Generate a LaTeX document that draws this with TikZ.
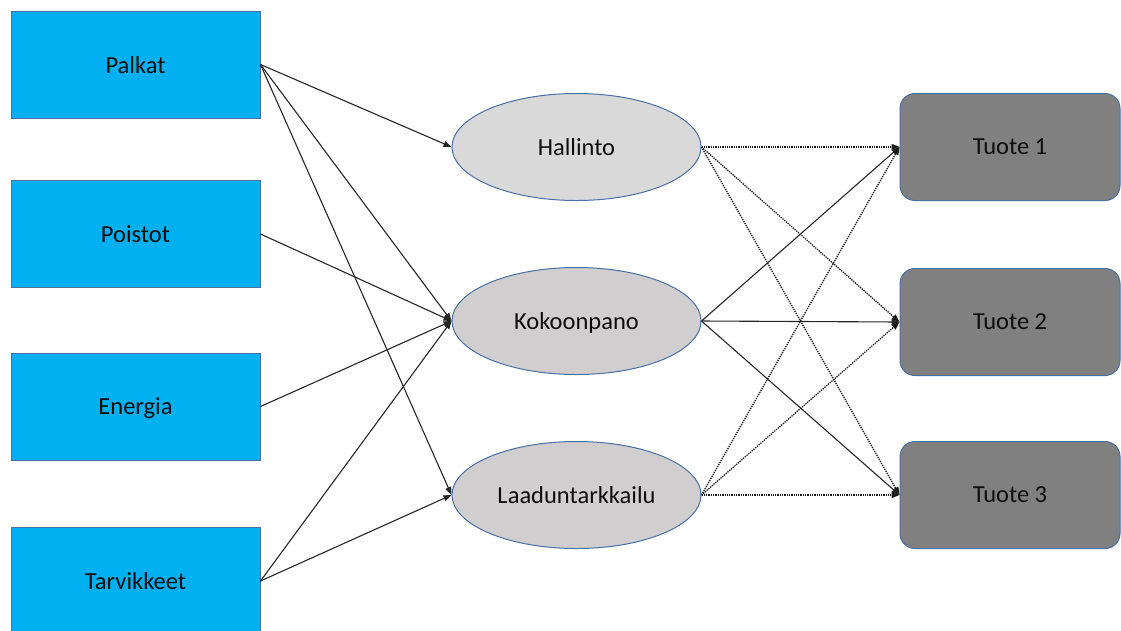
\documentclass[tikz,border=0pt]{standalone}
\usepackage{fontspec}
\setmainfont{Carlito}
\usetikzlibrary{shapes.geometric,arrows.meta}
\definecolor{srcblue}{HTML}{00B0F0}
\definecolor{edgeblue}{HTML}{4A6FA5}
\definecolor{actgray}{HTML}{D9D9D9}
\definecolor{actgray2}{HTML}{D0CECE}
\definecolor{prodgray}{HTML}{808080}
\definecolor{txt}{HTML}{0D0D0D}
\tikzset{
  lbl/.style={text=txt, font=\fontsize{24.5}{28}\selectfont, text depth=0pt},
  src/.style={draw=edgeblue, line width=1pt, fill=srcblue, minimum width=249pt, minimum height=107pt, inner sep=0pt, lbl},
  act/.style={ellipse, draw=edgeblue, line width=1pt, fill=actgray, minimum width=249pt, minimum height=107pt, inner sep=0pt, lbl},
  prod/.style={draw=edgeblue, line width=1pt, fill=prodgray, rounded corners=15pt, minimum width=220pt, minimum height=107pt, inner sep=0pt, lbl},
  flow/.style={draw=black!85, line width=1.1pt, -{Triangle[length=8pt,width=6pt]}},
  dflow/.style={draw=black!90, line width=1.3pt, densely dotted, -{Triangle[length=8pt,width=6pt]}}
}
\begin{document}
\begin{tikzpicture}[x=1pt,y=-1pt]
\useasboundingbox (0,0) rectangle (1121,630);
\node[src] (palkat) at (135.5,64.5) {Palkat};
\node[src] (poistot) at (135.5,234) {Poistot};
\node[src] (energia) at (135.5,406.5) {Energia};
\node[src] (tarvikkeet) at (135.5,581) {Tarvikkeet};
\node[act] (hallinto) at (576.5,147) {Hallinto};
\node[act, fill=actgray2] (kokoonpano) at (576.5,321) {Kokoonpano};
\node[act, fill=actgray2] (laadun) at (576.5,495) {Laaduntarkkailu};
\node[prod] (t1) at (1010,147) {Tuote 1};
\node[prod] (t2) at (1010,322) {Tuote 2};
\node[prod] (t3) at (1010,495) {Tuote 3};
\draw[flow] (palkat.east) -- (hallinto.west);
\draw[flow] (palkat.east) -- (kokoonpano.west);
\draw[flow] (palkat.east) -- (laadun.west);
\draw[flow] (poistot.east) -- (kokoonpano.west);
\draw[flow] (energia.east) -- (kokoonpano.west);
\draw[flow] (tarvikkeet.east) -- (kokoonpano.west);
\draw[flow] (tarvikkeet.east) -- (laadun.west);
\draw[dflow] (hallinto.east) -- (t1.west);
\draw[dflow] (hallinto.east) -- (t2.west);
\draw[dflow] (hallinto.east) -- (t3.west);
\draw[flow] (kokoonpano.east) -- (t1.west);
\draw[flow] (kokoonpano.east) -- (t2.west);
\draw[flow] (kokoonpano.east) -- (t3.west);
\draw[dflow] (laadun.east) -- (t1.west);
\draw[dflow] (laadun.east) -- (t2.west);
\draw[dflow] (laadun.east) -- (t3.west);
\end{tikzpicture}
\end{document}
